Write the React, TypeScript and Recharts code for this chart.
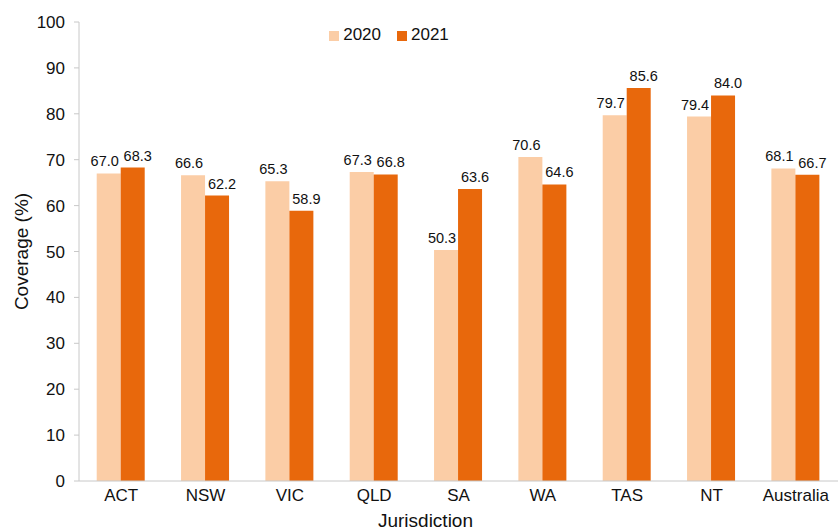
import { BarChart, Bar, XAxis, YAxis, Legend, LabelList } from 'recharts';

const JURISDICTIONS = ['ACT', 'NSW', 'VIC', 'QLD', 'SA', 'WA', 'TAS', 'NT', 'Australia'];
const COVERAGE_2020 = [67.0, 66.6, 65.3, 67.3, 50.3, 70.6, 79.7, 79.4, 68.1];
const COVERAGE_2021 = [68.3, 62.2, 58.9, 66.8, 63.6, 64.6, 85.6, 84.0, 66.7];
const Y_TICKS = [0, 10, 20, 30, 40, 50, 60, 70, 80, 90, 100];

const C2020 = '#FBCDA6';
const C2021 = '#E8680C';
const FONT = 'Liberation Sans, Arial, Helvetica, sans-serif';

const data = JURISDICTIONS.map((j, i) => ({
  name: j,
  '2020': COVERAGE_2020[i],
  '2021': COVERAGE_2021[i],
}));

function makeLabel(dx: number) {
  return (props: any) => {
    const { x, y, width, value } = props;
    return (
      <text
        x={Number(x) + Number(width) / 2 + dx}
        y={Number(y) - 7}
        textAnchor="middle"
        fontSize={14.5}
        fill="#111"
        fontFamily={FONT}
      >
        {Number(value).toFixed(1)}
      </text>
    );
  };
}

export default function App() {
  return (
    <div style={{ position: 'absolute', left: 0, top: 0, background: '#fff' }}>
      <BarChart
        width={838}
        height={531}
        data={data}
        margin={{ top: 22, right: 0, left: 0, bottom: 0 }}
        barCategoryGap="21%"
        barGap={0}
        style={{ fontFamily: FONT }}
      >
        <XAxis
          dataKey="name"
          height={50}
          tickLine={false}
          axisLine={{ stroke: '#c8c8c8' }}
          tick={{ fill: '#111', fontSize: 17 }}
          label={{ value: 'Jurisdiction', position: 'insideBottom', offset: 4, dx: -33, fill: '#111', fontSize: 19 }}
        />
        <YAxis
          width={79}
          domain={[0, 100]}
          ticks={Y_TICKS}
          interval={0}
          tickSize={5}
          tickMargin={9}
          axisLine={{ stroke: '#c8c8c8' }}
          tickLine={{ stroke: '#c8c8c8' }}
          tick={{ fill: '#111', fontSize: 17 }}
          label={{ value: 'Coverage (%)', angle: -90, position: 'center', dx: -18, fill: '#111', fontSize: 19 }}
        />
        <Legend
          layout="horizontal"
          verticalAlign="middle"
          align="center"
          iconType="square"
          iconSize={10}
          wrapperStyle={{ top: 25, left: 312, width: 170, fontSize: 17, color: '#111' }}
          formatter={(v: string) => <span style={{ color: '#111', marginRight: 6 }}>{v}</span>}
        />
        <Bar dataKey="2020" fill={C2020} isAnimationActive={false}>
          <LabelList dataKey="2020" content={makeLabel(-4)} />
        </Bar>
        <Bar dataKey="2021" fill={C2021} isAnimationActive={false}>
          <LabelList dataKey="2021" content={makeLabel(5)} />
        </Bar>
      </BarChart>
    </div>
  );
}
